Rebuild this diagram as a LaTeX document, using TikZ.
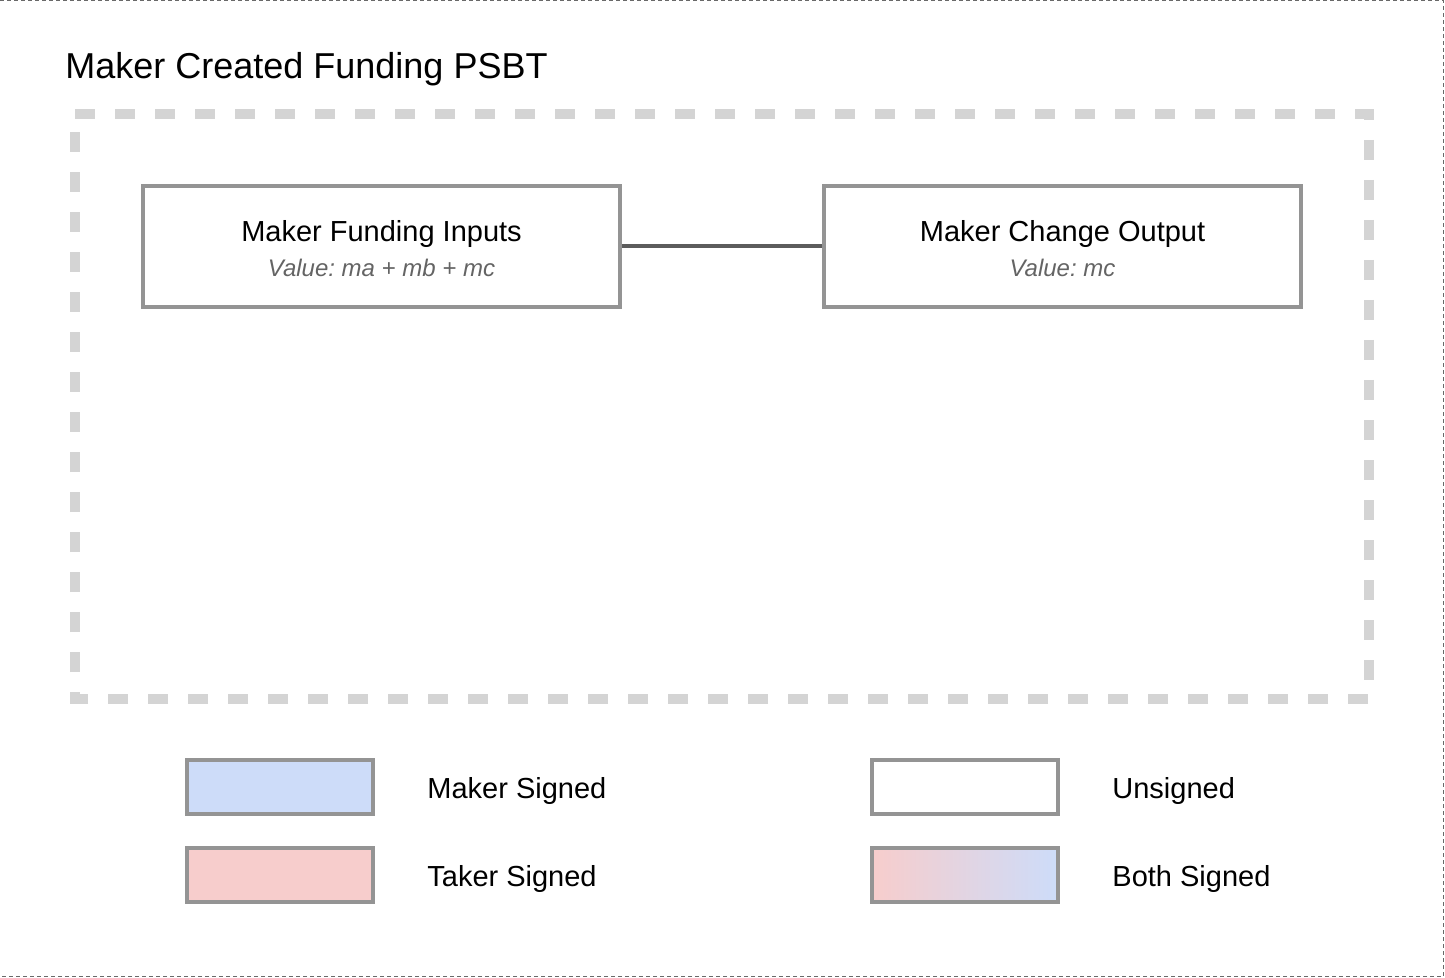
\documentclass[tikz,border=0pt]{standalone}
\usepackage{fontspec}
\setmainfont{Liberation Sans}
\usepackage{tikz}
\usetikzlibrary{positioning}
\frenchspacing
\definecolor{edgegray}{RGB}{148,148,148}
\definecolor{linkgray}{RGB}{92,92,92}
\definecolor{framegray}{RGB}{212,212,212}
\definecolor{pagegray}{RGB}{105,105,105}
\definecolor{valgray}{RGB}{100,100,100}
\definecolor{makerblue}{RGB}{205,220,249}
\definecolor{takerred}{RGB}{247,205,204}
\pgfdeclarehorizontalshading{bothsign}{100bp}{color(0bp)=(takerred); color(25bp)=(takerred); color(75bp)=(makerblue); color(100bp)=(makerblue)}
\newcommand{\boxfont}{\fontsize{14.5}{17}\selectfont}
\newcommand{\legfont}{\fontsize{14.5}{17}\selectfont}
\newcommand{\valfont}{\fontsize{12}{14}\selectfont\itshape\color{valgray}}
\newcommand{\txin}[2]{\rule{0pt}{12.5pt}#1\\[0.2pt]{\valfont Value: #2}}

\begin{document}
\begin{tikzpicture}[x=0.5pt,y=-0.5pt,
every node/.style={inner sep=0pt},
txbox/.style={draw=edgegray,line width=2pt,minimum width=238.5pt,minimum height=60.5pt,align=center,font=\boxfont},
legbox/.style={draw=edgegray,line width=2pt,minimum width=93pt,minimum height=27pt},
legtext/.style={font=\legfont,anchor=west},
signmaker/.style={fill=makerblue},
signtaker/.style={fill=takerred},
signnone/.style={fill=white},
signboth/.style={shade,shading=bothsign,shading angle=0}]
\useasboundingbox (0,0) rectangle (1445,978);
% page edge, only three sides show
\draw[pagegray,line width=0.5pt,dash pattern=on 2pt off 1.5pt] (0,0.5) -- (1443.5,0.5) -- (1443.5,976.5) -- (0,976.5);

% title and dashed psbt frame
\node[anchor=base west,font=\fontsize{18}{22}\selectfont] (title) at (65,79) {Maker Created Funding PSBT};
\draw[framegray,line width=5pt,dash pattern=on 10pt off 10pt] (75,114) -- (1369,114) -- (1369,699) -- (75,699) -- cycle;

% inputs and outputs
\node[txbox] (fundin) at (381.5,246.5) {\txin{Maker Funding Inputs}{ma + mb + mc}};
\node[txbox,right=100pt of fundin] (change) {\txin{Maker Change Output}{mc}};
\draw[linkgray,line width=2pt] (fundin) -- (change);

% legend
\foreach \nm/\st/\pos/\txt in {maker/signmaker/{280,787}/Maker Signed,
	taker/signtaker/{280,875}/Taker Signed,
	unsig/signnone/{965,787}/Unsigned,
	both/signboth/{965,875}/Both Signed}{
	\node[legbox,\st] (\nm) at (\pos) {};
	\node[legtext,right=26pt of \nm,yshift=-1.8pt] (\nm txt) {\txt};
}
\end{tikzpicture}
\end{document}
